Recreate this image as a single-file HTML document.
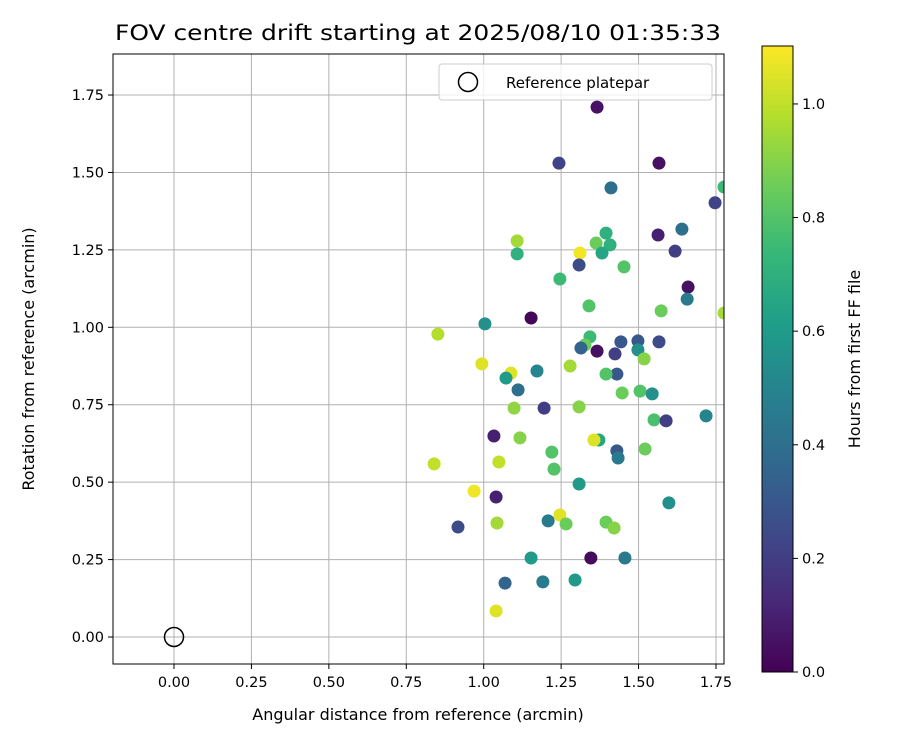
<!DOCTYPE html>
<html><head><meta charset="utf-8"><style>
html,body{margin:0;padding:0;background:#fff;}
svg text{font-family:"DejaVu Sans","Liberation Sans",sans-serif;fill:#000;}
</style></head><body>
<svg id="chart" width="900" height="750" xmlns="http://www.w3.org/2000/svg">
<defs><linearGradient id="vir" x1="0" y1="1" x2="0" y2="0"></linearGradient></defs>
<text x="418" y="40" font-size="21" text-anchor="middle" textLength="606" lengthAdjust="spacingAndGlyphs">FOV centre drift starting at 2025/08/10 01:35:33</text>
<g id="grid"></g><g id="pts"></g><g id="axes"></g>
</svg>
<script>
const xs=[1.366,1.243,1.566,1.411,1.776,1.747,1.640,1.395,1.563,1.108,1.363,1.408,1.618,1.311,1.382,1.108,1.308,1.453,1.246,1.660,1.657,1.573,1.340,1.776,1.153,1.004,0.852,1.343,1.443,1.498,1.566,1.327,1.314,1.498,1.366,1.424,1.518,0.994,1.279,1.172,1.088,1.430,1.395,1.072,1.111,1.447,1.505,1.544,1.098,1.195,1.308,1.718,1.550,1.589,1.033,1.117,1.372,1.356,1.430,1.220,1.521,1.434,1.049,0.840,1.227,1.308,0.969,1.040,1.246,1.208,1.395,1.043,1.266,1.421,0.917,1.153,1.346,1.456,1.598,1.069,1.191,1.295,1.040];
const ys=[1.711,1.530,1.530,1.450,1.453,1.402,1.317,1.304,1.298,1.279,1.272,1.266,1.246,1.240,1.240,1.237,1.201,1.195,1.156,1.130,1.091,1.053,1.069,1.046,1.030,1.011,0.978,0.969,0.953,0.956,0.953,0.943,0.933,0.927,0.923,0.914,0.898,0.882,0.875,0.859,0.852,0.849,0.849,0.836,0.798,0.788,0.794,0.785,0.739,0.739,0.743,0.714,0.701,0.698,0.649,0.643,0.636,0.636,0.601,0.597,0.607,0.578,0.565,0.559,0.542,0.494,0.471,0.452,0.394,0.375,0.371,0.368,0.365,0.352,0.355,0.255,0.255,0.255,0.433,0.174,0.178,0.184,0.084];
const hours=[0.05,0.22,0.05,0.4,0.75,0.22,0.4,0.7,0.1,0.95,0.85,0.7,0.2,1.08,0.65,0.7,0.25,0.8,0.75,0.05,0.45,0.85,0.8,0.95,0.02,0.55,0.98,0.75,0.3,0.3,0.25,0.85,0.35,0.55,0.05,0.2,0.9,1.05,0.95,0.5,1.05,0.3,0.8,0.6,0.4,0.85,0.8,0.55,0.92,0.2,0.9,0.5,0.78,0.2,0.1,0.9,0.65,1.05,0.3,0.8,0.85,0.45,1.0,1.0,0.8,0.6,1.08,0.1,1.05,0.45,0.85,0.95,0.85,0.9,0.25,0.6,0.03,0.45,0.55,0.35,0.45,0.6,1.05];
const xTicks=[0,0.25,0.5,0.75,1.0,1.25,1.5,1.75];
const yTicks=[0,0.25,0.5,0.75,1.0,1.25,1.5,1.75];
const cTicks=[0,0.2,0.4,0.6,0.8,1.0];
const cMax=1.102;
const NS="http://www.w3.org/2000/svg";
const L=113,R=724,T=54,B=664;
const sx=v=>174+v*309.7, sy=v=>637-v*309.7;
const vir=[[68,1,84],[72,40,120],[62,74,137],[49,104,142],[38,130,142],[31,158,137],[53,183,121],[109,205,89],[180,222,44],[253,231,37]];
function col(v){let t=Math.max(0,Math.min(1,v/cMax))*(vir.length-1);let i=Math.min(vir.length-2,Math.floor(t)),f=t-i;
 const c=vir[i].map((a,k)=>Math.round(a+(vir[i+1][k]-a)*f));return `rgb(${c})`;}
function mk(tag,at,parent){const e=document.createElementNS(NS,tag);for(const k in at)e.setAttribute(k,at[k]);parent.appendChild(e);return e;}
const svg=document.getElementById('chart'),grid=document.getElementById('grid'),pts=document.getElementById('pts'),axes=document.getElementById('axes');
const clip=mk('clipPath',{id:'pc'},svg.querySelector('defs'));mk('rect',{x:L,y:T,width:R-L,height:B-T},clip);
pts.setAttribute('clip-path','url(#pc)');
xTicks.forEach(v=>{const g=mk('line',{x1:sx(v),x2:sx(v),y1:T,y2:B,stroke:'#b0b0b0','stroke-width':1},grid);
 
 mk('line',{x1:sx(v),x2:sx(v),y1:B,y2:B+5,stroke:'#000'},axes);
 const t=mk('text',{x:sx(v),y:B+23,'font-size':14.5,'text-anchor':'middle'},axes);t.textContent=v.toFixed(2);
 });
yTicks.forEach(v=>{const g=mk('line',{x1:L,x2:R,y1:sy(v),y2:sy(v),stroke:'#b0b0b0','stroke-width':1},grid);
 
 mk('line',{x1:L-5,x2:L,y1:sy(v),y2:sy(v),stroke:'#000'},axes);
 const t=mk('text',{x:L-9,y:sy(v)+5,'font-size':14.5,'text-anchor':'end'},axes);t.textContent=v.toFixed(2);
 });
xs.forEach((x,i)=>{const c=mk('circle',{cx:sx(x),cy:sy(ys[i]),r:6.5,fill:col(hours[i])},pts);
 });
const ref=mk('circle',{cx:sx(0),cy:sy(0),r:9.5,fill:'none',stroke:'#000','stroke-width':1.5},axes);

const fr=mk('rect',{x:L,y:T,width:R-L,height:B-T,fill:'none',stroke:'#000','stroke-width':1},axes);

const lg=mk('g',{},axes);
mk('rect',{x:439,y:64,width:273,height:36,rx:3,fill:'#fff','fill-opacity':0.8,stroke:'#ccc'},lg);
mk('circle',{cx:468,cy:82,r:9.5,fill:'none',stroke:'#000','stroke-width':1.5},lg);
const lt=mk('text',{x:506,y:88,'font-size':15},lg);lt.textContent='Reference platepar';
const xl=mk('text',{x:418,y:720,'font-size':16,'text-anchor':'middle'},axes);xl.textContent='Angular distance from reference (arcmin)';

const yl=mk('text',{x:0,y:0,'font-size':16,'text-anchor':'middle',transform:'translate(34,359) rotate(-90)'},axes);yl.textContent='Rotation from reference (arcmin)';

const grad=document.getElementById('vir');
vir.forEach((c,i)=>mk('stop',{offset:(i/(vir.length-1)),'stop-color':`rgb(${c})`},grad));
const CB={x:762,y:46,w:31,h:626};
const cy=v=>CB.y+CB.h-(v/cMax)*CB.h;
const cb=mk('rect',{x:CB.x,y:CB.y,width:CB.w,height:CB.h,fill:'url(#vir)',stroke:'#000','stroke-width':1},axes);

cTicks.forEach(v=>{mk('line',{x1:CB.x+CB.w,x2:CB.x+CB.w+5,y1:cy(v),y2:cy(v),stroke:'#000'},axes);
 const t=mk('text',{x:CB.x+CB.w+9,y:cy(v)+5,'font-size':14.5},axes);t.textContent=v.toFixed(1);
 });
const cl=mk('text',{x:0,y:0,'font-size':16,'text-anchor':'middle',transform:'translate(860,359) rotate(-90)'},axes);cl.textContent='Hours from first FF file';

</script>
</body></html>
